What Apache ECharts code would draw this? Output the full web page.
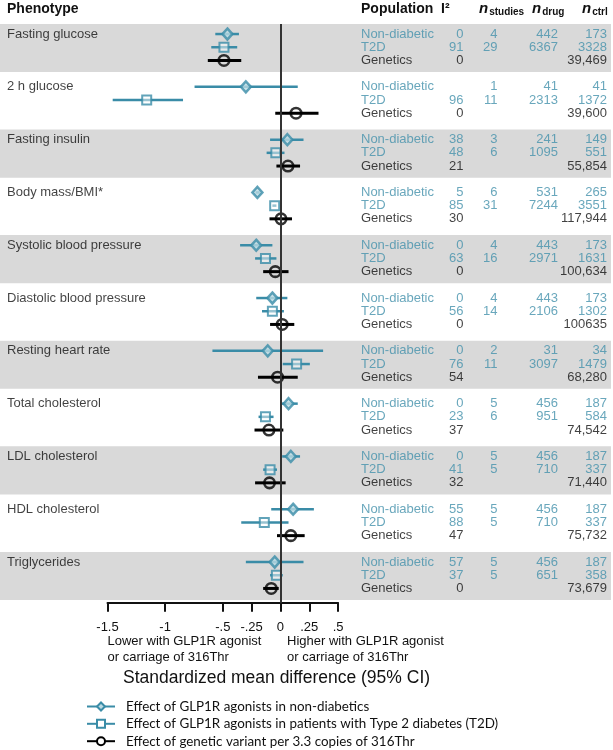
<!DOCTYPE html>
<html><head><meta charset="utf-8">
<script src="https://cdn.jsdelivr.net/npm/echarts@6/dist/echarts.min.js"></script>
<style>html,body{margin:0;padding:0;background:#fff}#c{width:613px;height:750px}</style>
</head><body><div id="c"></div>
<script>
// ---------- data ----------
const phenotypes = ['Fasting glucose','2 h glucose','Fasting insulin','Body mass/BMI*','Systolic blood pressure','Diastolic blood pressure','Resting heart rate','Total cholesterol','LDL cholesterol','HDL cholesterol','Triglycerides'];
const populations = ['Non-diabetic','T2D','Genetics'];
const xTicks = [-1.5,-1,-0.5,-0.25,0,0.25,0.5];

const ndEst = [-0.46,-0.30,0.06,-0.20,-0.21,-0.07,-0.11,0.07,0.09,0.11,-0.05];
const ndLo  = [-0.565,-0.745,-0.09,-0.215,-0.35,-0.21,-0.59,0.0,0.015,-0.08,-0.30];
const ndHi  = [-0.36,0.15,0.20,-0.18,-0.07,0.06,0.37,0.15,0.17,0.29,0.20];

const t2dEst = [-0.49,-1.16,-0.04,-0.05,-0.13,-0.07,0.14,-0.13,-0.09,-0.14,-0.035];
const t2dLo  = [-0.60,-1.455,-0.12,-0.07,-0.22,-0.16,0.02,-0.19,-0.15,-0.34,-0.09];
const t2dHi  = [-0.375,-0.845,0.035,-0.035,-0.035,0.03,0.255,-0.06,-0.03,0.07,0.02];

const genEst = [-0.49,0.135,0.065,0.005,-0.045,0.015,-0.025,-0.10,-0.095,0.09,-0.08];
const genLo  = [-0.63,-0.045,-0.035,-0.095,-0.15,-0.09,-0.195,-0.225,-0.22,-0.03,-0.15];
const genHi  = [-0.34,0.33,0.17,0.10,0.07,0.12,0.15,0.025,0.045,0.21,-0.015];

const ndI2 = ['0','','38','5','0','0','0','0','0','55','57'];
const ndStudies = ['4','1','3','6','4','4','2','5','5','5','5'];
const ndDrug = ['442','41','241','531','443','443','31','456','456','456','456'];
const ndCtrl = ['173','41','149','265','173','173','34','187','187','187','187'];

const t2dI2 = ['91','96','48','85','63','56','76','23','41','88','37'];
const t2dStudies = ['29','11','6','31','16','14','11','6','5','5','5'];
const t2dDrug = ['6367','2313','1095','7244','2971','2106','3097','951','710','710','651'];
const t2dCtrl = ['3328','1372','551','3551','1631','1302','1479','584','337','337','358'];

const genI2 = ['0','0','21','30','0','0','54','37','32','47','0'];
const genCtrl = ['39,469','39,600','55,854','117,944','100,634','100635','68,280','74,542','71,440','75,732','73,679'];

const legendNames = ['Effect of GLP1R agonists in non-diabetics','Effect of GLP1R agonists in patients with Type 2 diabetes (T2D)','Effect of genetic variant per 3.3 copies of 316Thr'];

// ---------- styling ----------
const TEAL = '#3a8ca7';
const TEXT_TEAL = '#4391ab';
const FONT = '"Liberation Sans", Arial, sans-serif';
const GRID_TOP = 24, GRID_H = 578.7;
const Y_MIN = -0.76, Y_MAX = 43.08;
const rowY = (i, j) => 4 * i + j;

const chart = echarts.init(document.getElementById('c'), null, {renderer: 'canvas'});

function ciSeries(lo, hi, j, color, width) {
  return {
    type: 'custom', xAxisIndex: 0, yAxisIndex: 0, z: 3,
    data: lo.map((l, i) => [l, hi[i], rowY(i, j)]),
    encode: {x: [0, 1], y: 2},
    renderItem: (params, api) => {
      const a = api.coord([api.value(0), api.value(2)]);
      const b = api.coord([api.value(1), api.value(2)]);
      return {type: 'line', shape: {x1: a[0], y1: a[1], x2: b[0], y2: b[1]},
              style: {stroke: color, lineWidth: width}};
    },
    silent: true
  };
}

function pointSeries(est, j, symbol, size, style) {
  return {
    type: 'scatter', xAxisIndex: 0, yAxisIndex: 0, z: 4,
    symbol, symbolSize: size, itemStyle: style,
    data: est.map((e, i) => [e, rowY(i, j)]),
    silent: true
  };
}

// text columns in a full-width grid (x axis in layout units 0..613)
function textSeries(values, j, colX, side, color) {
  return {
    type: 'scatter', xAxisIndex: 2, yAxisIndex: 2, symbolSize: 0, silent: true,
    data: values.map((v, i) => ({value: [colX, rowY(i, j)], name: String(v)})),
    label: {show: true, position: side, distance: 0, formatter: p => p.name,
            color, fontFamily: FONT, fontSize: 13, padding: [2, 0, 0, 0]}
  };
}

const series = [];
// legend proxies
series.push({type: 'line', name: legendNames[0], data: [], symbol: 'diamond', symbolSize: 10,
  lineStyle: {color: TEAL, width: 2.5}, itemStyle: {color: '#bcdbe4', borderColor: TEAL, borderWidth: 2.5}});
series.push({type: 'line', name: legendNames[1], data: [], symbol: 'rect', symbolSize: 9,
  lineStyle: {color: TEAL, width: 2.5}, itemStyle: {color: '#fff', borderColor: TEAL, borderWidth: 2}});
series.push({type: 'line', name: legendNames[2], data: [], symbol: 'circle', symbolSize: 10,
  lineStyle: {color: '#000', width: 3}, itemStyle: {color: '#fff', borderColor: '#000', borderWidth: 2.5}});

// bands
const bandData = [];
phenotypes.forEach((p, i) => { if (i % 2 === 0) bandData.push([{yAxis: rowY(i, 0) - 0.77}, {yAxis: rowY(i, 0) + 2.88}]); });
series.push({type: 'scatter', xAxisIndex: 1, yAxisIndex: 1, data: [], z: 0, silent: true,
  markArea: {silent: true, itemStyle: {color: '#d9d9d9'}, data: bandData}});

// zero line
series.push({type: 'scatter', xAxisIndex: 0, yAxisIndex: 0, data: [], z: 2, silent: true,
  markLine: {silent: true, symbol: 'none', label: {show: false},
    lineStyle: {color: '#333', width: 2, type: 'solid'}, data: [{xAxis: 0}]}});

// error bars
series.push(ciSeries(ndLo, ndHi, 0, TEAL, 2.5));
series.push(ciSeries(t2dLo, t2dHi, 1, TEAL, 2.5));
series.push(ciSeries(genLo, genHi, 2, '#000', 3));
series.push(pointSeries(ndEst, 0, 'diamond', [10, 11], {color: '#bcdbe4', borderColor: TEAL, borderWidth: 2.5}));
series.push(pointSeries(t2dEst, 1, 'rect', [9, 9], {color: 'rgba(255,255,255,0.6)', borderColor: TEAL, borderWidth: 2}));
series.push(pointSeries(genEst, 2, 'circle', 10.5, {color: 'rgba(0,0,0,0)', borderColor: '#000', borderWidth: 2.6}));

// table text
series.push(textSeries(phenotypes, 0, 7, 'right', '#111'));
series.push(textSeries(phenotypes.map(() => populations[0]), 0, 361, 'right', TEXT_TEAL));
series.push(textSeries(phenotypes.map(() => populations[1]), 1, 361, 'right', TEXT_TEAL));
series.push(textSeries(phenotypes.map(() => populations[2]), 2, 361, 'right', '#111'));
series.push(textSeries(ndI2, 0, 463.5, 'left', TEXT_TEAL));
series.push(textSeries(t2dI2, 1, 463.5, 'left', TEXT_TEAL));
series.push(textSeries(genI2, 2, 463.5, 'left', '#111'));
series.push(textSeries(ndStudies, 0, 497.5, 'left', TEXT_TEAL));
series.push(textSeries(t2dStudies, 1, 497.5, 'left', TEXT_TEAL));
series.push(textSeries(ndDrug, 0, 558, 'left', TEXT_TEAL));
series.push(textSeries(t2dDrug, 1, 558, 'left', TEXT_TEAL));
series.push(textSeries(ndCtrl, 0, 607, 'left', TEXT_TEAL));
series.push(textSeries(t2dCtrl, 1, 607, 'left', TEXT_TEAL));
series.push(textSeries(genCtrl, 2, 607, 'left', '#111'));

const hdr = {fontFamily: FONT, fontSize: 14, fontWeight: 'bold', fill: '#111'};
const nRich = {
  n: {fontFamily: FONT, fontSize: 15, fontWeight: 'bold', fontStyle: 'italic', fill: '#111'},
  s: {fontFamily: FONT, fontSize: 10, fontWeight: 'bold', fill: '#111', padding: [7, 0, 0, 1]}
};

const legendRowsTop = [698.5, 715.8, 733.2];
const legends = legendNames.map((nm, k) => ({
  data: [nm], orient: 'vertical', left: 86, top: legendRowsTop[k], padding: 0,
  itemWidth: 28, itemHeight: 10, selectedMode: false,
  textStyle: {fontFamily: 'Lato, "Open Sans", sans-serif', fontSize: 13.4, lineHeight: 16, color: '#111', padding: [0, 0, 0, 6]}
}));

const option = {
  animation: false,
  backgroundColor: '#fff',
  grid: [
    {left: 107.5, width: 230.6, top: GRID_TOP, height: GRID_H},
    {left: 0, width: 611, top: GRID_TOP, height: GRID_H},
    {left: 0, width: 613, top: GRID_TOP, height: GRID_H}
  ],
  xAxis: [
    {type: 'value', gridIndex: 0, min: -1.5, max: 0.5, splitLine: {show: false},
     axisLine: {show: true, onZero: false, lineStyle: {color: '#111', width: 2}},
     axisTick: {show: true, length: 9, lineStyle: {color: '#111', width: 2}, customValues: xTicks},
     axisLabel: {customValues: xTicks, margin: 18, color: '#111', fontFamily: FONT, fontSize: 13,
       formatter: v => v === 0 ? '0' : String(v).replace(/^(-?)0\./, '$1.')}},
    {type: 'value', gridIndex: 1, min: 0, max: 1, show: false},
    {type: 'value', gridIndex: 2, min: 0, max: 613, show: false}
  ],
  yAxis: [0, 1, 2].map(g => ({type: 'value', gridIndex: g, min: Y_MIN, max: Y_MAX, inverse: true, show: false})),
  legend: legends,
  graphic: [
    {type: 'text', left: 7, top: 2, style: Object.assign({text: 'Phenotype'}, hdr)},
    {type: 'text', left: 361, top: 2, style: Object.assign({text: 'Population'}, hdr)},
    {type: 'text', left: 441, top: 2, style: Object.assign({text: 'I²'}, hdr)},
    {type: 'text', left: 479, top: 1, style: {text: '{n|n}{s|studies}', rich: nRich}},
    {type: 'text', left: 532, top: 1, style: {text: '{n|n}{s|drug}', rich: nRich}},
    {type: 'text', left: 582, top: 1, style: {text: '{n|n}{s|ctrl}', rich: nRich}},
    {type: 'text', left: 107.5, top: 634, style: {text: 'Lower with GLP1R agonist\nor carriage of 316Thr', fontFamily: FONT, fontSize: 13, lineHeight: 15.7, fill: '#111'}},
    {type: 'text', left: 287, top: 634, style: {text: 'Higher with GLP1R agonist\nor carriage of 316Thr', fontFamily: FONT, fontSize: 13, lineHeight: 15.7, fill: '#111'}},
    {type: 'text', left: 123, top: 669, style: {text: 'Standardized mean difference (95% CI)', fontFamily: FONT, fontSize: 17.5, fill: '#111'}}
  ],
  series
};
chart.setOption(option);
</script></body></html>
